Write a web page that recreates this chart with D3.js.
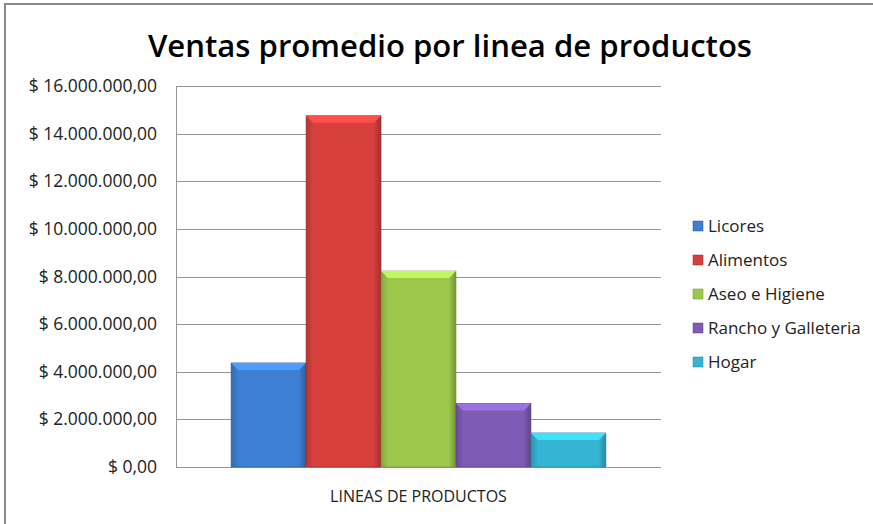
<!DOCTYPE html>
<html>
<head>
<meta charset="utf-8">
<script src="https://cdn.jsdelivr.net/npm/d3@7"></script>
<style>
  body { margin: 0; background: #fff; overflow: hidden; }
  svg { display: block; overflow: hidden; }
  text { font-family: "Open Sans", Lato, sans-serif; }
</style>
</head>
<body>
<div id="chart"></div>
<script>
// data
var categories = ["Licores", "Alimentos", "Aseo e Higiene", "Rancho y Galleteria", "Hogar"];
var ventas = [4370000, 14750000, 8230000, 2670000, 1430000];
var yTicks = [0, 2000000, 4000000, 6000000, 8000000, 10000000, 12000000, 14000000, 16000000];
var colores = ["#3d7fd2", "#d7403d", "#9cc84b", "#7e5bb5", "#35b5d3"];

var W = 873, H = 524;
var margin = {top: 86, right: 212, bottom: 57, left: 176},
    width = W - margin.left - margin.right,
    height = H - margin.top - margin.bottom;

var svg = d3.select("#chart").append("svg")
  .attr("width", W)
  .attr("height", H);

// outer frame (right and bottom edges are off the picture)
svg.append("rect")
  .attr("x", 5).attr("y", 4)
  .attr("width", W + 10).attr("height", H + 10)
  .attr("fill", "#fff")
  .attr("stroke", "#8a8a8a")
  .attr("stroke-width", 2);

// title
svg.append("text")
  .attr("x", 450).attr("y", 57)
  .attr("text-anchor", "middle")
  .attr("font-size", "31px")
  .attr("font-weight", 600)
  .attr("textLength", 604)
  .attr("lengthAdjust", "spacingAndGlyphs")
  .attr("fill", "#000")
  .text("Ventas promedio por linea de productos");

var g = svg.append("g")
  .attr("transform", "translate(" + margin.left + "," + margin.top + ")");

var y = d3.scaleLinear().domain([0, 16000000]).range([height, 0]);

// one category, five series
var cat = "LINEAS DE PRODUCTOS";
var x0 = d3.scaleBand().domain([cat]).range([0, width]).paddingInner(0).paddingOuter(0.147);
var x1 = d3.scaleBand().domain(categories).range([x0(cat), x0(cat) + x0.bandwidth()]);

// gridlines
g.append("g").selectAll("line")
  .data(yTicks)
  .enter().append("line")
    .attr("x1", 0).attr("x2", width)
    .attr("y1", function(d) { return Math.round(y(d)) + 0.5; })
    .attr("y2", function(d) { return Math.round(y(d)) + 0.5; })
    .attr("stroke", "#969696")
    .attr("stroke-width", 1);

// y axis
var fmt = function(d) {
  var s = d3.format(",.2f")(d).replace(/,/g, "#").replace(".", ",").replace(/#/g, ".");
  return "$ " + s;
};
var yAxis = g.append("g")
  .call(d3.axisLeft(y).tickValues(yTicks).tickFormat(fmt).tickSize(0).tickPadding(19));
yAxis.select(".domain").attr("stroke", "#969696");
yAxis.selectAll("text")
  .attr("font-size", "17.5px")
  .attr("fill", "#222")
  .style("font-family", "'Open Sans', sans-serif");

// bar gradients
var defs = svg.append("defs");
colores.forEach(function(c, i) {
  var grad = defs.append("linearGradient").attr("id", "grad" + i)
    .attr("x1", "0%").attr("x2", "100%").attr("y1", "0%").attr("y2", "0%");
  grad.append("stop").attr("offset", "0%").attr("stop-color", d3.color(c).darker(0.5));
  grad.append("stop").attr("offset", "10%").attr("stop-color", c);
  grad.append("stop").attr("offset", "90%").attr("stop-color", c);
  grad.append("stop").attr("offset", "100%").attr("stop-color", d3.color(c).darker(0.8));
});

var bars = g.append("g").selectAll("g")
  .data(ventas)
  .enter().append("g");

bars.append("rect")
  .attr("x", function(d, i) { return x1(categories[i]); })
  .attr("y", function(d) { return y(d); })
  .attr("width", x1.bandwidth())
  .attr("height", function(d) { return height - y(d); })
  .attr("fill", function(d, i) { return "url(#grad" + i + ")"; })
  .attr("stroke", function(d, i) { return d3.color(colores[i]).darker(1); })
  .attr("stroke-width", 0.6);

// bevel on top
bars.append("path")
  .attr("d", function(d, i) {
    var x = x1(categories[i]), w = x1.bandwidth(), t = y(d), b = 7;
    return "M" + x + "," + t + "L" + (x + w) + "," + t + "L" + (x + w - b) + "," + (t + b) + "L" + (x + b) + "," + (t + b) + "Z";
  })
  .attr("fill", function(d, i) { return d3.color(colores[i]).brighter(0.6); });

// x axis label
g.append("text")
  .attr("x", x0(cat) + x0.bandwidth() / 2)
  .attr("y", height + 35)
  .attr("text-anchor", "middle")
  .attr("font-size", "16px")
  .attr("fill", "#222")
  .text(cat);

// legend
var legend = svg.append("g").attr("transform", "translate(693,221)");
var item = legend.selectAll("g")
  .data(categories)
  .enter().append("g")
    .attr("transform", function(d, i) { return "translate(0," + (i * 34) + ")"; });
item.append("rect")
  .attr("width", 10).attr("height", 10)
  .attr("fill", function(d, i) { return colores[i]; })
  .attr("stroke", function(d, i) { return d3.color(colores[i]).darker(1); })
  .attr("stroke-width", 0.5);
item.append("text")
  .attr("x", 15).attr("y", 11)
  .attr("font-size", "17px")
  .attr("fill", "#222")
  .text(function(d) { return d; });
</script>
</body>
</html>
